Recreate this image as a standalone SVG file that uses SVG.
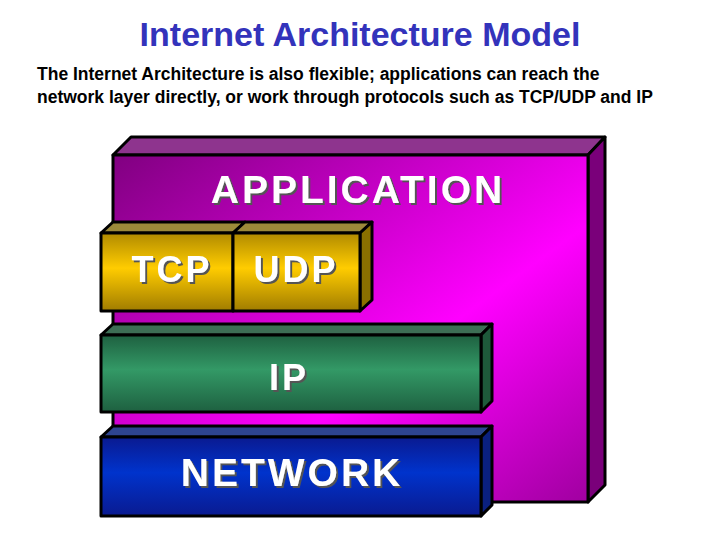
<svg xmlns="http://www.w3.org/2000/svg" width="720" height="540" viewBox="0 0 720 540">
<defs>
<linearGradient id="gApp" x1="0" y1="0" x2="1" y2="1"><stop offset="0" stop-color="#800080"/><stop offset="0.6" stop-color="#ff00ff"/><stop offset="1" stop-color="#a000a0"/></linearGradient>
<linearGradient id="gTcp" x1="0" y1="0" x2="0" y2="1"><stop offset="0" stop-color="#b08a00"/><stop offset="0.45" stop-color="#ffcc00"/><stop offset="1" stop-color="#a07c00"/></linearGradient>
<linearGradient id="gIp" x1="0" y1="0" x2="0" y2="1"><stop offset="0" stop-color="#1e6040"/><stop offset="0.45" stop-color="#339966"/><stop offset="1" stop-color="#1e6040"/></linearGradient>
<linearGradient id="gNet" x1="0" y1="0" x2="0" y2="1"><stop offset="0" stop-color="#0a1a90"/><stop offset="0.45" stop-color="#0033cc"/><stop offset="1" stop-color="#0a1a90"/></linearGradient>
<filter id="sh" x="-10%" y="-20%" width="120%" height="140%"><feDropShadow dx="2" dy="2" stdDeviation="0.3" flood-color="#555"/></filter>
</defs>
<style>
.b{stroke:#000;stroke-width:3;stroke-linejoin:round}
.l{font-family:"Liberation Sans",Arial,sans-serif;font-weight:bold;fill:#fff;text-anchor:middle;letter-spacing:3px;filter:url(#sh)}
.t{font-family:"Liberation Sans",Arial,sans-serif;font-weight:bold;font-size:17.5px;fill:#000}
</style>
<rect width="720" height="540" fill="#fff"/>
<text x="360" y="46" font-family="Liberation Sans,Arial,sans-serif" font-weight="bold" font-size="34" fill="#3333bb" text-anchor="middle">Internet Architecture Model</text>
<text class="t" x="37" y="80">The Internet Architecture is also flexible; applications can reach the</text>
<text class="t" x="37" y="103">network layer directly, or work through protocols such as TCP/UDP and IP</text>
<g id="application">
<polygon class="b" points="113,155 131,137 605,137 588,155" fill="#8e348e"/>
<polygon class="b" points="588,155 605,137 605,485 588,502" fill="#7a007a"/>
<rect class="b" x="113" y="155" width="475" height="347" fill="url(#gApp)"/>
<text class="l" x="358" y="203" font-size="39">APPLICATION</text>
</g>
<g id="tcp">
<polygon class="b" points="101,233 113,222 245,222 233,233" fill="#9c8a3a"/>
<rect class="b" x="101" y="233" width="132" height="78" fill="url(#gTcp)"/>
<text class="l" x="172" y="282" font-size="36">TCP</text>
</g>
<g id="udp">
<polygon class="b" points="233,233 245,222 372,222 360,233" fill="#9c8a3a"/>
<polygon class="b" points="360,233 372,222 372,300 360,311" fill="#8a7000"/>
<rect class="b" x="233" y="233" width="127" height="78" fill="url(#gTcp)"/>
<text class="l" x="296" y="282" font-size="36">UDP</text>
</g>
<g id="ip">
<polygon class="b" points="101,335 113,324 492,324 481,335" fill="#3d6e55"/>
<polygon class="b" points="481,335 492,324 492,401 481,412" fill="#1e5a3a"/>
<rect class="b" x="101" y="335" width="380" height="77" fill="url(#gIp)"/>
<text class="l" x="289" y="390" font-size="36">IP</text>
</g>
<g id="network">
<polygon class="b" points="101,437 113,426 492,426 481,437" fill="#2e4490"/>
<polygon class="b" points="481,437 492,426 492,505 481,516" fill="#0a2080"/>
<rect class="b" x="101" y="437" width="380" height="79" fill="url(#gNet)"/>
<text class="l" x="292" y="486" font-size="39">NETWORK</text>
</g>
<g id="connectors"/>
</svg>
